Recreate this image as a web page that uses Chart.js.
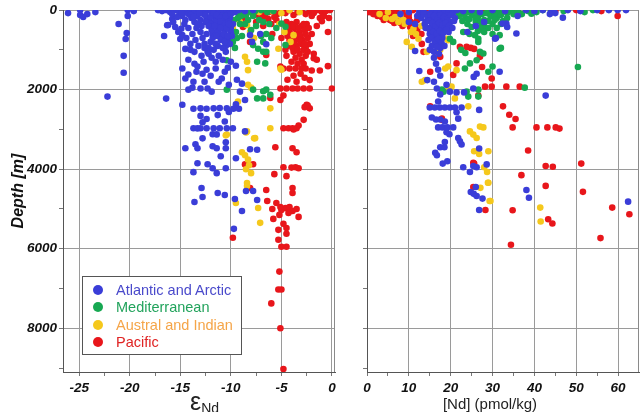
<!DOCTYPE html>
<html>
<head>
<meta charset="utf-8">
<script src="https://cdn.jsdelivr.net/npm/chart.js@4.4.1/dist/chart.umd.min.js"></script>
<style>
  body { margin: 0; background: #fff; width: 644px; height: 412px; position: relative; overflow: hidden;
         font-family: "Liberation Sans", Arial, sans-serif; }
  canvas { position: absolute; top: 0; }
  #left { left: 0; }
  #right { left: 340px; }
  .legend { position: absolute; left: 82px; top: 276px; width: 158px; height: 77px; border: 1px solid #555; background: #fff; }
  .legend .row { position: absolute; left: 0; height: 17px; line-height: 17px; font-size: 14.5px; white-space: nowrap; }
  .legend .dot { position: absolute; left: 10px; top: 3px; width: 10px; height: 10px; border-radius: 50%; }
  .legend .txt { position: absolute; left: 33px; top: 0; }
  .epstitle { position: absolute; left: 190px; top: 389px; line-height: 25px; color: #222; white-space: nowrap; }
  .ndtitle { position: absolute; left: 390px; top: 396px; width: 200px; text-align: center; line-height: 15px; font-size: 15px; color: #222; }
</style>
</head>
<body>
<canvas id="left" width="340" height="412"></canvas>
<canvas id="right" width="304" height="412"></canvas>
<div class="legend" id="legend"></div>
<div class="epstitle"><span style="font-size:25px">&#949;</span><span style="font-size:14px;position:relative;top:3px">Nd</span></div>
<div class="ndtitle">[Nd] (pmol/kg)</div>
<script>
// ocean regions
const regions = ["Atlantic and Arctic", "Mediterranean", "Austral and Indian", "Pacific"];
const dotColors = ["#3a3dd8", "#17a852", "#f5c81c", "#e8161b"];
const textColors = ["#4a4acb", "#22a35c", "#f5a548", "#e02424"];

// tick values
const depthTicks = [0, 1000, 2000, 3000, 4000, 5000, 6000, 7000, 8000, 9000];
const depthLabels = [0, 2000, 4000, 6000, 8000];
const epsTicks = [-25, -22.5, -20, -17.5, -15, -12.5, -10, -7.5, -5, -2.5, 0];
const epsLabels = [-25, -20, -15, -10, -5, 0];
const ndTicks = [0, 5, 10, 15, 20, 25, 30, 35, 40, 45, 50, 55, 60];
const ndLabels = [0, 10, 20, 30, 40, 50, 60];

// [eps Nd, depth m]
const atlanticEps = [
  [-26.1,75],[-24.9,0],[-24.9,125],[-24.6,175],[-24.2,100],[-23.4,50],[-20.2,0],[-20.2,150],[-19.6,25],[-17.2,0],
  [-16.8,25],[-16.4,0],[-16.0,50],[-15.6,0],[-15.2,25],[-14.8,0],[-14.4,50],[-14.0,0],[-13.6,25],[-13.2,0],
  [-12.8,50],[-12.4,0],[-12.0,25],[-11.6,0],[-11.2,50],[-10.8,0],[-10.4,25],[-10.0,0],[-9.6,50],[-9.2,0],[-8.6,25],[-7.8,0],
  [-21.1,350],[-20.3,575],[-20.4,725],[-20.6,1150],[-20.6,1575],[-22.2,2175],[-16.6,650],[-16.4,2225],[-16.2,375],[-15.8,225],
  [-14.8,150],[-14.5,250],[-14.2,100],[-13.9,200],[-13.6,300],[-13.3,150],[-13.0,250],[-12.7,100],[-12.4,200],[-12.1,300],
  [-11.8,150],[-11.5,250],[-11.2,350],[-10.9,150],[-10.6,250],[-10.3,100],[-10.1,200],
  [-15.8,100],[-15.3,175],[-14.9,75],[-14.0,125],[-13.7,175],[-13.1,75],[-12.5,125],[-12.0,175],[-11.7,75],[-11.4,125],
  [-11.0,200],[-10.5,150],[-10.0,100],[-10.2,300],[-10.5,380],[-10.8,330],[-11.1,280],[-11.6,300],[-12.0,350],[-12.5,300],
  [-12.9,400],[-13.3,350],[-11.8,600],[-11.2,500],[-10.6,520],[-10.0,450],[-10.0,560],[-10.3,720],[-10.7,700],[-11.1,650],
  [-11.5,560],[-12.0,800],[-12.6,950],[-11.3,900],[-10.5,900],[-10.1,850],[-9.9,650],[-9.8,350],
  [-12.2,400],[-11.9,500],[-11.6,400],[-11.3,550],[-11.0,450],[-10.7,600],[-10.4,450],[-10.2,350],[-12.4,600],[-11.8,700],
  [-11.4,650],[-11.0,750],[-10.6,800],[-10.3,650],[-10.8,950],[-11.5,850],
  [-14.6,350],[-14.2,450],[-13.8,600],[-13.4,450],[-13.0,550],[-12.8,700],[-13.5,750],[-14.0,850],[-13.2,900],[-12.6,850],
  [-12.2,950],[-15.5,425],[-15.0,725],[-14.5,975],[-14.0,1000],[-16.3,380],[-15.7,300],[-14.9,470],[-14.8,630],
  [-15.2,550],[-14.4,700],[-13.6,1050],[-12.9,1150],[-12.3,1050],[-11.7,1000],[-14.2,1250],[-13.6,1350],[-11.5,1300],
  [-10.3,1450],[-12.0,1650],[-12.8,1600],
  [-12.7,1300],[-12.2,1100],[-11.9,1200],[-11.2,1150],[-10.8,1250],[-10.5,1050],[-14.8,1470],[-14.5,1720],[-14.2,1620],
  [-13.7,1800],[-13.4,1550],[-13.0,1970],[-12.6,1800],[-12.3,1970],[-11.9,2050],[-11.2,1800],[-10.9,1720],[-10.6,1550],
  [-10.2,1880],[-11.5,1470],[-13.3,1420],[-12.4,1500],[-13.8,1950],[-14.2,2000],[-10.0,1300],[-9.5,1400],
  [-9.4,1750],[-8.9,1850],[-8.1,625],[-7.9,800],[-7.1,600],[-6.5,860],[-9.1,2050],[-8.6,2260],
  [-14.8,2380],[-13.7,2480],[-13.0,2470],[-12.4,2480],[-11.7,2470],[-11.1,2460],[-10.4,2470],[-9.75,2480],[-9.2,2480],
  [-9.5,2370],[-13.0,2660],[-12.4,2740],[-11.3,2640],[-10.6,2800],[-10.2,2560],[-12.8,2820],[-13.7,2970],[-13.0,2970],
  [-12.4,2970],[-11.7,2970],[-11.1,2970],[-10.4,2970],[-9.8,2970],[-11.8,3120],
  [-8.6,3050],[-13.3,2975],[-12.8,3225],[-11.4,3125],[-10.5,3325],[-14.5,3475],[-13.5,3375],[-13.3,3475],[-11.8,3425],
  [-11.4,3475],[-11.0,3675],[-10.5,3475],[-13.3,3850],[-13.7,4075],[-12.3,3875],[-11.8,3975],[-11.4,4100],[-10.5,3975],
  [-9.5,3725],[-8.1,3500],[-7.4,3510],
  [-12.9,4475],[-12.8,4700],[-13.6,4825],[-11.3,4600],[-10.6,4650],[-9.6,4750],[-8.9,5050],[-8.5,4550],[-7.4,4775],
  [-9.7,5500],[-7.8,4550]
];
const medEps = [
  [-11.4,25],[-10.9,50],[-10.4,0],[-10.0,75],[-9.6,25],[-9.2,100],[-8.8,50],[-8.4,0],[-8.0,50],[-7.6,25],[-7.0,0],
  [-6.4,50],[-5.8,25],[-9.7,250],[-9.3,200],[-9.1,350],[-9.6,950],[-9.4,700],[-8.6,350],[-8.3,250],[-7.0,650],[-6.5,600],
  [-6.8,800],[-6.0,700],[-5.5,450],[-7.8,880],[-7.3,970],[-6.8,1050],[-6.5,1050],[-7.4,1300],[-6.6,1340],[-10.4,1260],
  [-7.8,2000],[-6.8,2040],[-6.5,2000],[-6.1,2130],[-7.4,2220],[-6.8,2220],[-10.4,2000],[-5.0,340],[-4.6,420],[-4.6,880],
  [-8.0,500],[-7.5,400],[-9.0,150],[-8.5,125],[-7.8,150],[-7.2,250],[-6.8,300],[-6.2,350],[-9.5,550],[-9.8,800],[-8.9,650]
];
const australEps = [
  [-10.1,250],[-9.8,450],[-9.1,300],[-8.4,380],[-8.1,550],[-8.6,1175],[-8.4,1300],[-8.3,1510],[-8.3,1880],[-8.0,1950],
  [-9.3,2300],[-6.1,2470],[-6.1,2970],[-8.4,3050],[-7.6,3220],[-10.4,3130],[-10.5,3150],[-8.5,3075],[-7.7,3225],
  [-8.9,3575],[-8.6,3650],[-8.3,3760],[-8.2,3900],[-8.5,4000],[-8.0,4100],[-8.4,4350],[-8.4,4425],[-9.5,4850],
  [-7.3,4975],[-7.1,5350],[-5.1,1470],[-5.0,1500],[-5.3,970],[-4.1,800],[-3.8,630],[-9.4,25],[-8.7,0],[-7.2,50],
  [-6.0,25],[-5.0,75],[-4.2,0],[-3.2,50],[-5.2,350],[-4.7,550],[-7.7,700]
];
const pacificEps = [
  [-9.0,25],[-8.5,100],[-8.0,0],[-7.5,75],[-7.0,25],[-6.6,125],[-6.2,50],[-5.8,0],[-5.4,100],[-5.0,25],[-4.6,75],
  [-4.2,0],[-3.8,125],[-3.4,50],[-3.0,0],[-2.6,100],[-2.2,25],[-1.8,75],[-1.4,0],[-1.0,50],[-0.6,25],[-0.2,0],
  [-6.9,200],[-6.3,225],[-5.7,175],[-2.0,150],[-1.2,200],
  [-4.5,300],[-4.0,350],[-3.5,300],[-3.0,400],[-2.5,350],[-4.2,500],[-3.7,450],[-3.2,550],[-2.7,500],[-4.4,650],
  [-3.9,700],[-3.4,650],[-2.9,750],[-2.4,700],[-4.0,850],[-3.5,900],[-3.0,850],[-2.6,950],[-3.8,1050],[-3.2,1100],
  [-2.8,1000],[-4.6,1000],[-2.2,850],[-1.8,1100],
  [-4.3,400],[-3.8,400],[-3.3,450],[-2.8,350],[-2.3,450],[-4.6,550],[-4.1,600],[-3.6,600],[-3.1,650],[-2.6,600],
  [-4.2,750],[-3.7,800],[-3.2,750],[-2.7,850],[-4.4,900],[-3.9,950],[-3.4,1000],[-2.4,1050],[-3.6,1200],[-3.0,1250],
  [-2.6,1150],[-4.0,1300],[-3.4,1350],[-2.8,1350],[-4.5,1150],[-3.1,1600],[-3.8,1650],[-2.7,1700],[-4.4,1750],
  [-3.5,1800],[-6.0,350],[-6.8,400],[-7.2,150],[-5.5,250],[-1.5,400],[-0.8,150],[-0.3,200],[-2.0,600],
  [-8.9,220],[-8.8,425],[-8.1,800],[-7.5,300],[-6.5,1130],[-5.9,600],[-5.0,700],[-0.4,550],[-1.0,280],[-1.8,1210],
  [-1.5,1250],[-2.2,1760],[-2.0,1520],[-1.2,1520],[-0.4,1410],[-5.1,1420],[-4.8,1470],[-4.2,1470],[-3.6,1470],
  [-3.0,1470],[-2.6,1470],[-5.1,1970],[-4.5,1970],[-3.9,1970],[-3.4,1970],[-2.8,1970],[-2.2,1970],[0,1970],[-5.1,2260],
  [-4.8,2150],[-6.1,2210],[-2.5,2380],[-2.2,2470],[-2.7,2440],[-2.4,2400],[-2.8,2760],[-3.3,2900],[-4.8,2970],
  [-4.3,2970],[-3.9,2970],[-3.5,2970],[-3.8,3000],[-5.6,3450],[-3.9,3475],[-3.5,3575],[-7.8,3875],[-8.6,3880],
  [-5.7,4125],[-4.8,3950],[-4.0,3960],[-3.6,3950],[-3.3,3975],[-4.5,4175],[-3.9,4475],[-3.9,4600],[-8.1,4475],[-6.5,4525],
  [-6.4,4800],[-5.9,5000],[-5.5,4850],[-5.0,5025],[-4.6,4975],[-4.2,4950],[-3.9,5050],[-3.5,5000],[-3.3,5200],
  [-4.3,5100],[-5.2,5150],[-5.8,5250],[-4.8,5375],[-4.5,5480],[-5.3,5525],[-4.5,5625],[-5.3,5775],[-5.0,5950],
  [-4.5,5950],[-9.8,5725],[-5.1,4950],
  [-5.2,6575],[-5.3,7025],[-5.0,7025],[-6.0,7375],[-5.1,8000],[-4.8,9025]
];

// [[Nd] pmol/kg, depth m]
const atlanticNd = [
  [12.5,50],[13.5,0],[14.5,100],[15.5,25],[16.5,75],[17.5,0],[18.5,50],[19.5,25],[20.5,75],[21.5,0],[13.0,200],
  [14.0,300],[15.0,200],[16.0,300],[17.0,150],[18.0,250],[19.0,150],[20.0,300],[21.0,200],[14.5,450],[15.5,400],
  [16.5,500],[17.5,400],[18.5,450],[19.5,550],[15.0,600],[16.0,650],[17.0,600],[18.0,700],[16.5,850],[17.5,950],
  [15.5,900],[16.0,1050],
  [13.5,100],[14.5,175],[15.2,125],[16.0,150],[16.8,225],[17.6,125],[18.4,175],[19.2,225],[20.0,125],[20.8,275],
  [13.8,350],[14.8,275],[15.6,325],[16.4,400],[17.2,325],[18.0,375],[18.8,325],[19.6,400],[20.4,450],[15.0,500],
  [15.8,550],[16.6,600],[17.4,525],[18.2,575],[19.0,500],[14.7,750],[15.4,700],[16.2,780],[17.0,720],[17.8,820],
  [15.0,1000],[16.7,920],[17.2,1100],[18.5,900],[14.0,450],[12.0,150],[11.5,350],
  [23,25],[25,0],[27,50],[30,0],[33,25],[38,0],[40,25],[42,0],[44,50],[45,75],[48,0],[51,25],[55,0],[57.8,0],[59.9,0],
  [61.9,0],[36,150],[43.7,100],[46.8,190],[30.6,720],[35.7,590],[33.3,340],[32.4,340],[33.5,425],[30.8,700],[28,300],
  [26,400],[24,550],[10,300],[11.5,1030],[12.5,1530],[14.4,1760],[8,100],[10,50],
  [16,1200],[16.5,1350],[17,1500],[17.5,1650],[16.0,1800],[16.7,1970],[17.5,2120],[17.0,2300],[19.0,1880],[19.8,2050],
  [21.4,2070],[23.2,2070],[25.4,1970],[26.2,1600],[25.5,1680],[31.7,1550],[42.7,2150],[26.8,2510],
  [15,2450],[16.2,2450],[17.4,2450],[18.6,2450],[19.8,2450],[21,2450],[22.6,2450],[21.4,2570],
  [15.5,2700],[16.5,2750],[17.5,2750],[18.6,2800],[21.8,2730],[17,2950],[18,2950],[19.2,2950],[20.6,2950],[19.7,3120],
  [19,3070],[21.8,3215],[22.6,3380],[22.2,3300],[18.6,3315],[17.5,3450],[18.5,3450],[16.3,3590],[16.7,3650],[18.1,3860],
  [19.2,3800],[23,3950],[24.6,4070],[26.2,3950],[26.8,3480],[28.6,3880],[25.4,3920],
  [26.0,4450],[24.8,4575],[25.5,4620],[26.2,4675],[27.6,4740],[26.8,5025],[38.1,4525],[38.7,4717],[62.4,4816]
];
const medNd = [
  [21,25],[22.5,0],[24,50],[25.5,25],[27,0],[28.5,75],[30,25],[31.5,50],[33,0],[34.5,25],[22,150],[23.5,200],[25,125],
  [26.5,175],[28,250],[29.5,150],[31,200],[32.5,275],[24,350],[26,300],[28,400],[30,350],[36,25],[39.3,90],[52,50],
  [54,0],[47,25],[42,0],
  [21.8,75],[23.2,100],[24.6,0],[26.0,75],[27.5,100],[29.0,0],[30.5,100],[32.0,125],[33.5,75],[35.0,100],[22.8,275],
  [24.5,225],[26.0,225],[27.2,300],[29.0,275],[30.5,250],[32.0,350],[33.5,200],[25.0,425],[27.0,450],[29.0,450],
  [31.0,450],[26.5,525],[28.0,550],[30.0,600],[37,100],[38.5,25],[40.5,50],[44,25],
  [23,550],[24.5,600],[25.8,630],[26.6,720],[26.6,800],[27,1050],[27.8,1090],[26.2,1260],[24.6,1340],[23.4,1470],
  [29,1550],[30,1420],[31.7,630],[31.7,970],[32,950],[19.8,720],[20.6,800],[22.5,1000],[23.5,1080],[17.9,2000],
  [18.3,2050],[23.8,2050],[24.2,2175],[26.6,2000],[26.6,2175],[37.7,1950],[50.4,1430]
];
const australNd = [
  [6.7,175],[7.5,300],[8.7,250],[11.1,470],[11.7,600],[12.3,720],[9.5,800],[10.7,920],[19,720],[19.4,760],[18.7,1470],
  [19.4,1420],[21.4,1510],[13.1,1800],[13.9,1760],[20.2,1925],[19.4,1970],[21,2220],[24.2,2420],[17,1050],[17.5,1000],
  [14.3,1050],[5,50],[10,25],[19,0],[24,0],[29,0],[3,100],[4.5,200],[6,225],[8,150],[9,350],[10.5,550],[13,400],
  [24.6,3050],[25.4,3130],[26.2,3215],[27,2930],[27.8,2950],[25.6,3550],[26.8,3620],[29,3550],[28,3950],[28.7,4070],
  [28.9,4340],[27.1,4470],[29.3,4800],[41.4,4966],[41.5,5316],[29,4340],[29.5,4800]
];
const pacificNd = [
  [1,0],[2,25],[3,75],[4,25],[5,125],[6,50],[7,175],[8,100],[9,250],[3.5,175],[5.5,250],[7.5,300],[9.5,300],[10.3,425],
  [8.5,400],[6.5,325],[11,0],[14,0],[17,25],[22,0],[28,25],[35,0],[40,0],[45,25],[50,0],[56,25],[59.9,150],
  [0.5,50],[1.5,100],[2.5,150],[3.0,25],[4.5,100],[5.0,200],[6.0,150],[7.0,75],[8.0,200],[9.0,125],[10.0,200],
  [6.0,275],[4.0,250],[8.0,325],[10.5,300],[11.5,400],[12.0,500],[3.0,0],[5.0,25],[7.0,0],[9.0,50],[12,250],[13,600],
  [11,650],[10,100],
  [14.7,133],[15.1,590],[15.5,510],[19.4,425],[13.5,1050],[13.1,850],[16.7,1050],[17.5,1175],[15.1,1550],[21.4,1340],
  [22.2,925],[23.8,925],[24.8,950],[25.6,975],[27,1130],[20.6,1630],[27.5,1430],[27,1175],[28.2,1925],[29.8,1925],
  [29.8,1720],[33.3,1925],[36.5,1925],[26.6,2150],[15.1,2420],[17.9,2760],[32.5,2420],[34,2630],[35.5,2740],
  [34.8,2950],[40.5,2950],[43.1,2950],[45.1,2950],[46,2980],[38.5,3530],[42.7,3920],[44.4,3940],[51.2,3860],
  [36.9,4150],[42.7,4420],[51.6,4570],[25.4,4450],[25.6,3860],[17.9,2730],[25.4,3840],[28.3,5025],[34.8,5033],
  [43.3,5258],[44.3,5366],[58.6,4966],[62.7,5133],[55.8,5733],[34.4,5900]
];

const tickFont = { family: "'Liberation Sans', Arial, sans-serif", size: 13.5, weight: 'bold', style: 'italic' };

const framePlugin = {
  id: 'frame',
  beforeDatasetsDraw(chart) {
    const a = chart.chartArea, ctx = chart.ctx;
    ctx.save();
    ctx.strokeStyle = '#8a8a8a';
    ctx.lineWidth = 1;
    ctx.beginPath();
    ctx.moveTo(Math.round(a.right) - 0.5, a.top);
    ctx.lineTo(Math.round(a.right) - 0.5, a.bottom);
    ctx.stroke();
    ctx.restore();
  }
};

function toPoints(arr) {
  return arr.map(p => ({ x: p[0], y: p[1] }));
}

function makeDatasets(lists) {
  return lists.map((arr, i) => ({
    label: regions[i],
    data: toPoints(arr),
    pointRadius: 3.3,
    pointBorderWidth: 0,
    pointBackgroundColor: dotColors[i],
    backgroundColor: dotColors[i],
    showLine: false
  }));
}

function xAxis(min, max, ticks, labels, height) {
  return {
    type: 'linear', min: min, max: max,
    afterBuildTicks: s => { s.ticks = ticks.map(v => ({ value: v })); },
    afterFit: s => { s.height = height; },
    ticks: {
      autoSkip: false, maxRotation: 0, padding: 4, color: '#111', font: tickFont,
      callback: v => labels.includes(v) ? String(v) : ''
    },
    grid: {
      color: c => (c.tick && labels.includes(c.tick.value)) ? '#9a9a9a' : 'rgba(0,0,0,0)',
      tickColor: '#777', tickLength: 4
    },
    border: { color: '#555' }
  };
}

function yAxis(width, showLabels) {
  return {
    type: 'linear', reverse: true, min: 0, max: 9100,
    afterBuildTicks: s => { s.ticks = depthTicks.map(v => ({ value: v })); },
    afterFit: s => { s.width = width; },
    ticks: {
      autoSkip: false, padding: 2, color: '#111', font: tickFont,
      callback: v => (showLabels && depthLabels.includes(v)) ? String(v) : ''
    },
    grid: {
      color: c => (c.tick && depthLabels.includes(c.tick.value)) ? '#9a9a9a' : 'rgba(0,0,0,0)',
      tickColor: '#777', tickLength: 4
    },
    border: { color: '#555' },
    title: {
      display: showLabels, text: 'Depth [m]', color: '#111',
      font: { family: "'Liberation Sans', Arial, sans-serif", size: 16, weight: 'bold', style: 'italic' },
      padding: { top: 9, bottom: 0 }
    }
  };
}

const baseOptions = {
  responsive: false,
  animation: false,
  plugins: { legend: { display: false }, tooltip: { enabled: false } }
};

new Chart(document.getElementById('left').getContext('2d'), {
  type: 'scatter',
  data: { datasets: makeDatasets([atlanticEps, medEps, australEps, pacificEps]) },
  options: Object.assign({}, baseOptions, {
    layout: { padding: { left: 0, right: 5, top: 8, bottom: 0 } },
    scales: {
      x: xAxis(-26.6, 0.3, epsTicks, epsLabels, 40),
      y: yAxis(63, true)
    }
  }),
  plugins: [framePlugin]
});

new Chart(document.getElementById('right').getContext('2d'), {
  type: 'scatter',
  data: { datasets: makeDatasets([atlanticNd, medNd, australNd, pacificNd]) },
  options: Object.assign({}, baseOptions, {
    layout: { padding: { left: 0, right: 5, top: 8, bottom: 0 } },
    scales: {
      x: xAxis(0, 65, ndTicks, ndLabels, 40),
      y: yAxis(27, false)
    }
  }),
  plugins: [framePlugin]
});

// legend box inside the left panel
const legend = document.getElementById('legend');
regions.forEach((name, i) => {
  const row = document.createElement('div');
  row.className = 'row';
  row.style.top = (5 + i * 17.3) + 'px';
  row.innerHTML = '<span class="dot" style="background:' + dotColors[i] + '"></span>' +
    '<span class="txt" style="color:' + textColors[i] + '">' + name + '</span>';
  legend.appendChild(row);
});
</script>
</body>
</html>
